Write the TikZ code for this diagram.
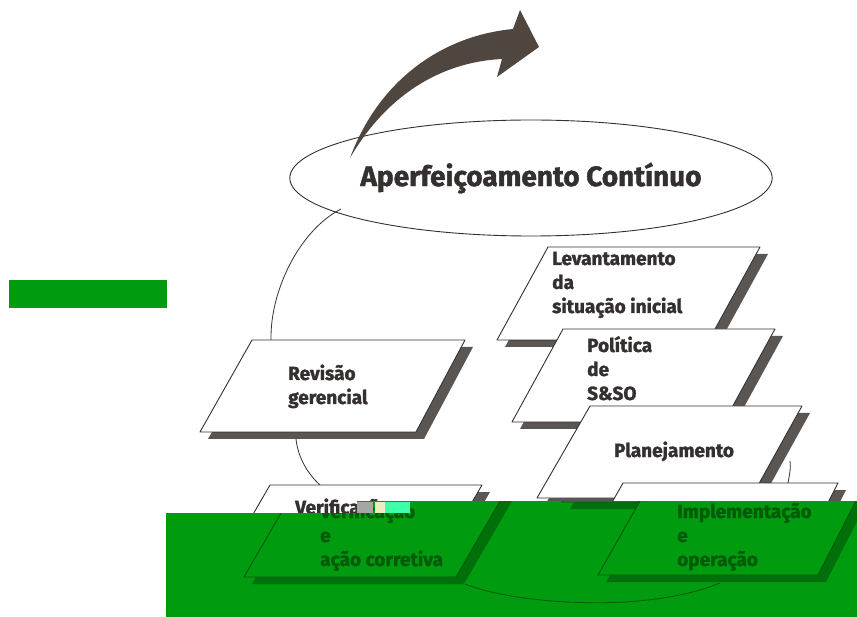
\documentclass[tikz,border=0pt]{standalone}
\usepackage{fontspec}
\setmainfont{Fira Sans}[BoldFeatures={FakeBold=1.6}]
\usetikzlibrary{shapes.geometric}

\definecolor{ink}{RGB}{52,48,47}
\definecolor{shade}{RGB}{92,86,82}
\definecolor{paper}{RGB}{255,255,255}
\definecolor{arrowfill}{RGB}{80,70,64}
\definecolor{mask}{RGB}{0,155,15}

\tikzset{
  boxline/.style={draw=ink, line width=0.9pt, fill=paper, line join=round},
  boxshadow/.style={fill=shade},
  boxtext/.style={font=\bfseries\fontsize{19}{24}\selectfont, text=ink, inner sep=0pt, anchor=base west},
  loopline/.style={draw=ink, line width=0.8pt},
  goalstyle/.style={ellipse, draw=ink, line width=0.9pt, minimum width=382pt, minimum height=116pt,
    inner sep=0pt, font=\bfseries\fontsize{28}{32}\selectfont, text=ink},
}

% left-aligned stack of lines whose baseline is the first line
\newcommand\stackedlines[1]{\begin{tabular}[t]{@{}l@{}}#1\end{tabular}}

% slanted card with its drop shadow: four corners, clockwise from top left
\newcommand\card[4]{%
  \fill[boxshadow, shift={(8,7)}] #1 -- #2 -- #3 -- #4 -- cycle;
  \path[boxline] #1 -- #2 -- #3 -- #4 -- cycle;
}

% corners of the three cards near the foot of the cycle
\newcommand\plancard{\card{(590,406)}{(802,406)}{(751,498)}{(537,498)}}
\newcommand\vercard{\card{(270,485)}{(482,485)}{(431,573)}{(219,573)}}
\newcommand\impcard{\card{(623,483)}{(838,483)}{(793,571)}{(573,571)}}

\newcommand\bottomloop{%
  \coordinate (ver-out) at (440,580);
  \coordinate (imp-low) at (695,579);
  \draw[loopline] (ver-out) .. controls (490,600) and (620,610) .. (imp-low);
}

\begin{document}
\begin{tikzpicture}[x=1pt, y=-1pt]
  \useasboundingbox (0,0) rectangle (857,617);
  \fill[white] (0,0) rectangle (857,617);

  % goal ellipse and the rising arrow
  \node[goalstyle] (goal) at (531,178) {Aperfeiçoamento Contínuo};
  \fill[arrowfill] (350,158) .. controls (378,82) and (440,36) .. (513,29)
    -- (520,10) -- (539,47) -- (497,77) -- (502,59)
    .. controls (440,62) and (386,96) .. (350,158) -- cycle;

  % loop segments between the cards
  \coordinate (goal-out) at (341,209);
  \coordinate (rev-in) at (271,340);
  \coordinate (rev-out) at (296,439);
  \coordinate (ver-in) at (320,485);
  \coordinate (plan-out) at (790,461);
  \coordinate (imp-in) at (788,483);
  \draw[loopline] (goal-out) .. controls (300,230) and (270,290) .. (rev-in);
  \draw[loopline] (rev-out) .. controls (298,458) and (308,474) .. (ver-in);
  \draw[loopline] (plan-out) .. controls (791,470) and (789,477) .. (imp-in);
  \bottomloop

  % cards
  \card{(548,247)}{(760,247)}{(709,340)}{(497,340)}
  \node[boxtext] (lev) at (552,265) {\stackedlines{Levantamento\\da\\situação inicial}};
  \card{(563,329)}{(775,329)}{(724,422)}{(512,422)}
  \node[boxtext] (pol) at (587,352) {\stackedlines{Política\\de\\S\&SO}};
  \plancard
  \node[boxtext, anchor=base] (plan) at (674,457) {Planejamento};
  \card{(252,340)}{(465,340)}{(416,432)}{(200,432)}
  \node[boxtext] (rev) at (288,380) {\stackedlines{Revisão\\gerencial}};
  \vercard
  \node[boxtext] (ver) at (295,514) {Verificação};
  \impcard

  % green panels laid over the picture; the lower one shows the cards offset
  \fill[mask] (9,280) rectangle (167,308);
  \begin{scope}
    \clip (166,617) -- (166,513) -- (357,513) -- (357,501) -- (857,501) -- (857,617) -- cycle;
    \fill[mask] (0,0) rectangle (857,617);
    \definecolor{ink}{RGB}{0,92,6}%
    \definecolor{shade}{RGB}{0,112,10}%
    \definecolor{paper}{RGB}{0,155,15}%
    \begin{scope}[shift={(25,4)}]
      \bottomloop
      \plancard
      \vercard
      \node[boxtext] (ver-low) at (295,514) {\stackedlines{Verificação\\e\\ação corretiva}};
      \impcard
      \node[boxtext] (imp-low) at (652,514) {\stackedlines{Implementação\\e\\operação}};
    \end{scope}
  \end{scope}
  \fill[black!35] (357,502) rectangle (373,513);
  \fill[yellow!20!white!92!black] (375,502) rectangle (385,513);
  \fill[green!45!cyan!75!white] (385,502) rectangle (410,513);
\end{tikzpicture}
\end{document}
